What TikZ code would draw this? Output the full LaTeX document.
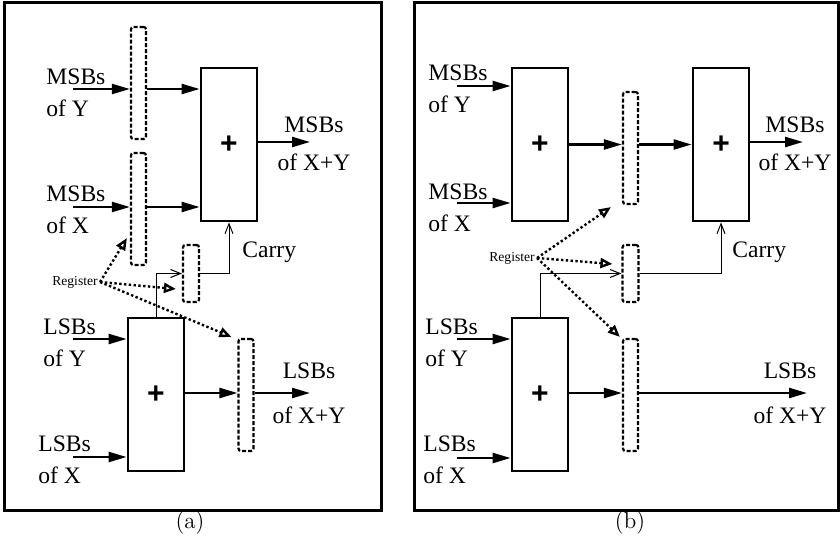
\documentclass[tikz,border=0pt]{standalone}
\usepackage{fontspec}
\newfontfamily\labelfont{Liberation Serif}
\newfontfamily\plusfont{Liberation Sans}
\usetikzlibrary{arrows.meta,positioning}

\begin{document}
\begin{tikzpicture}[
  x=0.5pt, y=-0.5pt,
  frame/.style={draw, line width=1.5pt},
  adder/.style={draw, line width=1.4pt, minimum width=28pt, minimum height=76.5pt, inner sep=0pt, font=\plusfont\bfseries\fontsize{15}{15}\selectfont},
  reg/.style={draw, line width=1.1pt, dash pattern=on 2pt off 1pt, rounded corners=1.2pt, minimum width=7.5pt, minimum height=56pt, inner sep=0pt},
  regsmall/.style={reg, minimum width=8pt, minimum height=28.5pt},
  lbl/.style={font=\labelfont\fontsize{11.8}{16}\selectfont, inner sep=0pt},
  reglbl/.style={font=\labelfont\fontsize{6.8}{8}\selectfont, inner sep=1pt},
  caption/.style={font=\fontsize{11.5}{12}\selectfont, inner sep=0pt},
  flow/.style={-{Triangle[length=9pt,width=5pt]}, line width=1.2pt},
  carry/.style={-{Straight Barb[length=5pt,width=4pt]}, line width=0.5pt},
  ctl/.style={-{Triangle[open,length=6pt,width=5pt]}, line width=1.2pt, dash pattern=on 1.2pt off 1.2pt},
]
\useasboundingbox (0,0) rectangle (840,540);

% (a)
\draw[frame] (4,3) rectangle (381,510);
\node[adder] (addMa) at (229,144.5) {+};
\node[adder] (addLa) at (156,394.5) {+};
\node[reg] (regYa) at (138.5,83) {};
\node[reg] (regXa) at (138.5,209) {};
\node[regsmall] (regCa) at (191,273.5) {};
\node[reg] (regLa) at (246,395) {};

\coordinate (inYa) at (73,89);
\coordinate (inXa) at (73,207);
\coordinate (inLYa) at (73,339);
\coordinate (inLXa) at (73,457);
\coordinate (outMa) at (310,142);
\coordinate (outLa) at (310,393);

\node[lbl, anchor=west, align=left] (lblYa) at (46,93) {MSBs\\of Y};
\node[lbl, anchor=west, align=left] (lblXa) at (46,210) {MSBs\\of X};
\node[lbl, anchor=west, align=left] (lblLYa) at (43,343) {LSBs\\of Y};
\node[lbl, anchor=west, align=left] (lblLXa) at (38,460) {LSBs\\of X};
\node[lbl, align=center] (lblMa) at (314,144) {MSBs\\[3pt]of X+Y};
\node[lbl, align=center] (lblLa) at (309,393) {LSBs\\[6.5pt]of X+Y};
\node[lbl, anchor=west] (carrya) at (242,252) {Carry};
\node[reglbl] (rega) at (75,282) {Register};

\draw[flow] (inYa) -- (inYa -| regYa.west);
\draw[flow] (inYa -| regYa.east) -- (inYa -| addMa.west);
\draw[flow] (inXa) -- (inXa -| regXa.west);
\draw[flow] (inXa -| regXa.east) -- (inXa -| addMa.west);
\draw[flow] (addMa.east |- outMa) -- (outMa);
\draw[flow] (inLYa) -- (inLYa -| addLa.west);
\draw[flow] (inLXa) -- (inLXa -| addLa.west);
\draw[flow] (addLa.east |- outLa) -- (regLa.west |- outLa);
\draw[flow] (regLa.east |- outLa) -- (outLa);
\draw[carry] (addLa.north) |- (regCa.west);
\draw[carry] (regCa.east) -| (addMa.south);
\draw[ctl] (rega.east) -- ([shift={(-3,-28)}]regXa.south west);
\draw[ctl] (rega.east) -- ([shift={(-6,15.5)}]regCa.west);
\draw[ctl] (rega.east) -- ([shift={(-6,-1)}]regLa.north west);

\node[caption] (capa) at (190,523) {(a)};

% (b)
\draw[frame] (414,3) rectangle (838,510);
\node[adder] (addMb) at (540,144.5) {+};
\node[adder] (addOb) at (721,144.5) {+};
\node[adder] (addLb) at (540,394.5) {+};
\node[reg] (regMb) at (630.5,148) {};
\node[regsmall] (regCb) at (630.5,273.5) {};
\node[reg] (regLb) at (630.5,395) {};

\coordinate (inYb) at (457,86);
\coordinate (inXb) at (457,203);
\coordinate (inLYb) at (457,339);
\coordinate (inLXb) at (457,458);
\coordinate (outMb) at (803,142);
\coordinate (outLb) at (807,393);

\node[lbl, anchor=west, align=left] (lblYb) at (428,89) {MSBs\\of Y};
\node[lbl, anchor=west, align=left] (lblXb) at (428,208) {MSBs\\of X};
\node[lbl, anchor=west, align=left] (lblLYb) at (425,343) {LSBs\\of Y};
\node[lbl, anchor=west, align=left] (lblLXb) at (423,460) {LSBs\\of X};
\node[lbl, align=center] (lblMb) at (795,144) {MSBs\\[3pt]of X+Y};
\node[lbl, align=center] (lblLb) at (790,393) {LSBs\\[6.5pt]of X+Y};
\node[lbl, anchor=west] (carryb) at (732,252) {Carry};
\node[reglbl] (regb) at (512,258) {Register};

\draw[flow] (inYb) -- (inYb -| addMb.west);
\draw[flow] (inXb) -- (inXb -| addMb.west);
\draw[flow] (addMb.east) -- (regMb.west |- addMb.east);
\draw[flow] (regMb.east |- addMb.east) -- (addOb.west);
\draw[flow] (addOb.east |- outMb) -- (outMb);
\draw[flow] (inLYb) -- (inLYb -| addLb.west);
\draw[flow] (inLXb) -- (inLXb -| addLb.west);
\draw[flow] (addLb.east |- outLb) -- (regLb.west |- outLb);
\draw[flow] (regLb.east |- outLb) -- (outLb);
\draw[carry] (addLb.north) |- (regCb.west);
\draw[carry] (regCb.east) -| (addOb.south);
\draw[ctl] (regb.east) -- ([shift={(-11,2)}]regMb.south west);
\draw[ctl] (regb.east) -- ([shift={(-9,-9.5)}]regCb.west);
\draw[ctl] (regb.east) -- ([shift={(-2,-1)}]regLb.north west);

\node[caption] (capb) at (630,523) {(b)};
\end{tikzpicture}
\end{document}
